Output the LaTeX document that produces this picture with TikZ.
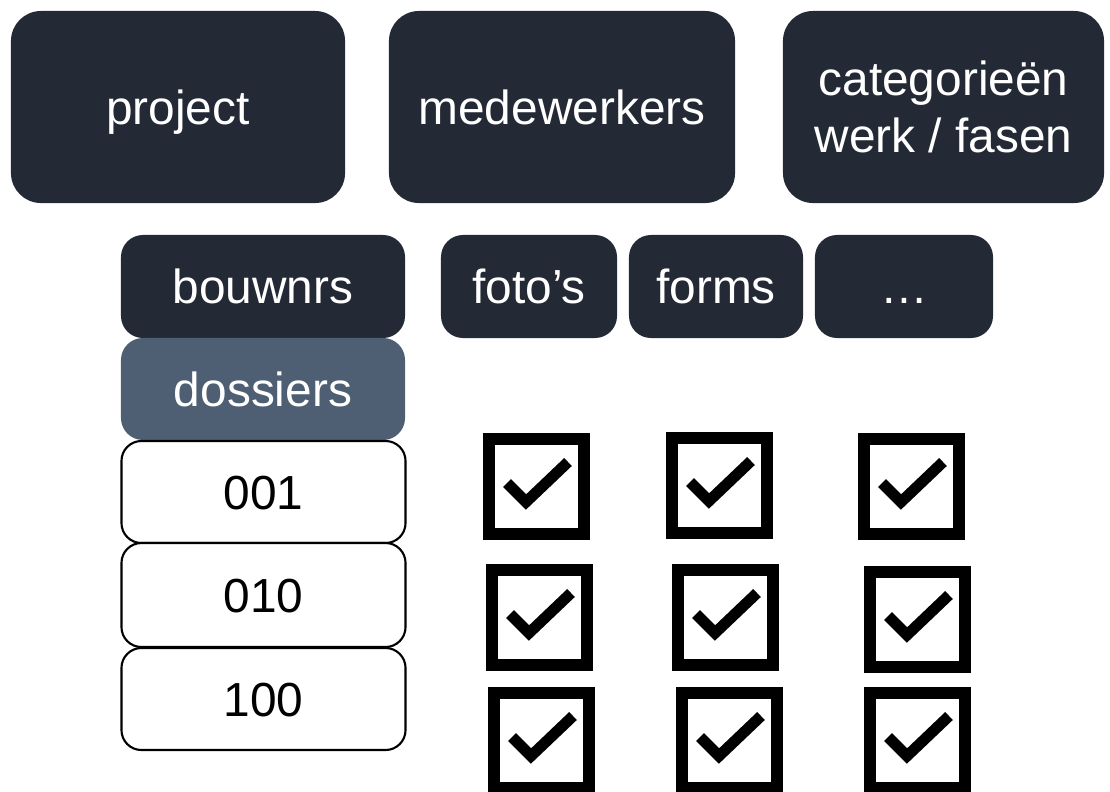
\documentclass[tikz,border=0pt]{standalone}
\usepackage{fontspec}
\setmainfont{Liberation Sans}
\usepackage{tikz}
\usetikzlibrary{shapes,positioning}
\usepackage{xcolor}
\definecolor{donker}{HTML}{242A35}
\definecolor{leisteen}{HTML}{4F5F73}
\tikzstyle{blok}=[rectangle, rounded corners=0.75cm, fill=donker, text=white, inner sep=0pt, align=center, font=\fontsize{34}{40}\selectfont]
\tikzstyle{regel}=[text height=0.86cm, text depth=0pt]
\tikzstyle{klein}=[blok, regel, rounded corners=0.55cm, minimum height=2.575cm]
\tikzstyle{nummer}=[rectangle, regel, rounded corners=0.5cm, draw=black, line width=1.5pt, fill=white, text=black, inner sep=0pt, minimum width=7.1cm, font=\fontsize{34}{40}\selectfont]
\tikzstyle{vakje}=[draw=black, line width=0.3cm]
\tikzstyle{vinkje}=[draw=black, line width=0.275cm]

\begin{document}
\begin{tikzpicture}[x=0.025cm, y=-0.025cm]

\useasboundingbox (0,0) rectangle (1110,791);
\clip (0,0) rectangle (1110,791);

% bovenste rij
\node[blok, regel, minimum width=8.35cm, minimum height=4.8cm] (project) at (178,107) {project};
\node[blok, regel, minimum width=8.65cm, minimum height=4.8cm] (medewerkers) at (562,107) {medewerkers};
\node[blok, minimum width=8.025cm, minimum height=4.8cm] (categorieen) at (943.5,107) {categorieën\\werk / fasen};

% tweede rij
\node[klein, minimum width=7.1cm] (bouwnrs) at (263,286.5) {bouwnrs};
\node[klein, minimum width=4.4cm] (fotos) at (529,286.5) {foto’s};
\node[klein, minimum width=4.35cm] (forms) at (716,286.5) {forms};
\node[klein, minimum width=4.45cm] (meer) at (904,286.5) {…};

% dossiers
\node[klein, fill=leisteen, minimum width=7.1cm, minimum height=2.55cm] (dossiers) at (263,389) {dossiers};
\node[nummer, minimum height=2.55cm] (nr001) at (263.5,492) {001};
\node[nummer, minimum height=2.6cm] (nr010) at (263.5,595) {010};
\node[nummer, minimum height=2.55cm] (nr100) at (263.5,699) {100};

% vinkjes
\foreach \x/\y in {483/433, 666/432, 858/433, 486/564, 672/564, 864/566, 488/687, 676/687, 864/687}
{
    \draw[vakje] (\x+6,\y+6) rectangle ++(95,95);
    \draw[vinkje] (\x+24,\y+50) -- ++(19,19) -- ++(42,-40);
}

\end{tikzpicture}
\end{document}
